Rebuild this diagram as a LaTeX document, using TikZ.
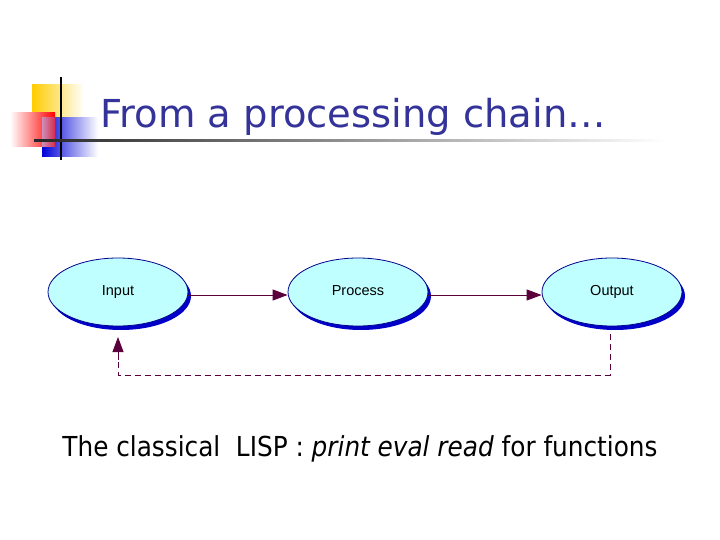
\documentclass[tikz,border=0pt]{standalone}
\usepackage{fontspec}
\setmainfont{DejaVu Sans}
\newfontfamily\titlefont{DejaVu Sans}
\newfontfamily\bodyfont{DejaVu Sans Condensed}
\newfontfamily\nodefont{Liberation Sans}
\usetikzlibrary{arrows.meta,shapes.geometric}
\definecolor{titleblue}{RGB}{51,51,153}
\definecolor{ellfill}{RGB}{192,255,255}
\definecolor{ellblue}{RGB}{0,0,200}
\definecolor{maroon}{RGB}{90,0,60}
\definecolor{gold}{RGB}{255,204,0}
\begin{document}
\begin{tikzpicture}[x=1pt,y=-1pt,
  ell/.style={ellipse, draw=ellblue!70!black, line width=0.8pt, fill=ellfill, minimum width=140pt, minimum height=68pt, inner sep=0pt, text height=10pt, text depth=3pt, font=\nodefont\fontsize{14.5}{16}\selectfont},
  shadowell/.style={ellipse, fill=ellblue, minimum width=140pt, minimum height=68pt, inner sep=0pt},
  conn/.style={draw=maroon, line width=0.9pt, -{Triangle[length=15pt,width=11pt]}},
  dconn/.style={draw=maroon, line width=0.9pt, dashed, dash pattern=on 6pt off 4pt}
]
\useasboundingbox (0,0) rectangle (720,540);
% logo
\shade[left color=gold, right color=white] (32,85) rectangle (84,120);
\shade[left color=white, right color=red] (10,113) rectangle (55,147);
\shade[left color=blue!85!black, right color=white] (42,118) rectangle (98,157);
\shade[left color=red!30, right color=red!85, opacity=0.8] (42,118) rectangle (55,147);
\draw[black, line width=1.5pt] (61,77) -- (61,160);
\shade[left color=black!85, right color=white] (34,140) rectangle (665,142);
% title
\node[anchor=base west, text=titleblue, inner sep=0pt, font=\titlefont\fontsize{38.5}{44}\selectfont] (title) at (100,128) {From a processing chain\ldots};
% ellipses
\node[shadowell] (s1) at (121,296) {};
\node[shadowell] (s2) at (361,296) {};
\node[shadowell] (s3) at (615,296) {};
\node[ell] (in) at (118,292) {Input};
\node[ell] (pr) at (358,292) {Process};
\node[ell] (out) at (612,292) {Output};
\draw[conn] (in.east |- 0,295) -- (pr.west |- 0,295);
\draw[conn] (pr.east |- 0,295) -- (out.west |- 0,295);
\coordinate (c1) at (610,375);
\coordinate (c2) at (118,375);
\draw[dconn] (610,334) -- (c1) -- (c2) -- (118,354);
\draw[conn] (118,360) -- (118,337);
% bottom text
\node[anchor=base, inner sep=0pt, font=\bodyfont\fontsize{27.5}{32}\selectfont] (txt) at (360,456) {The classical\ \ LISP : \textit{print eval read} for functions};
\end{tikzpicture}
\end{document}
